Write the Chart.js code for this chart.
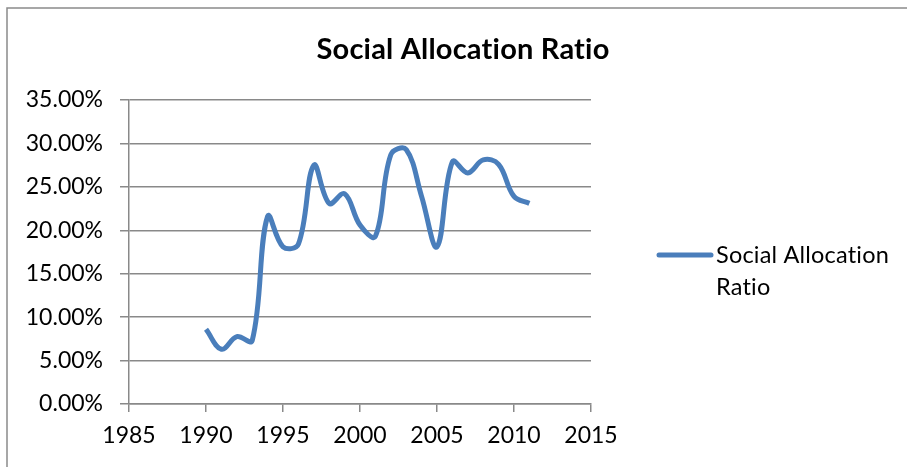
<!DOCTYPE html>
<html>
<head>
<meta charset="utf-8">
<script src="https://cdn.jsdelivr.net/npm/chart.js@4/dist/chart.umd.min.js"></script>
<style>
  html, body { margin: 0; padding: 0; background: #fff; }
  #wrap { width: 907px; height: 467px; position: relative; }
</style>
</head>
<body>
<div id="wrap"><canvas id="c" width="907" height="467"></canvas></div>
<script>
const title = 'Social Allocation Ratio';
const seriesName = 'Social Allocation Ratio';
const legendLines = ['Social Allocation', 'Ratio'];
const years = [1990, 1991, 1992, 1993, 1994, 1995, 1996, 1997, 1998, 1999, 2000,
               2001, 2002, 2003, 2004, 2005, 2006, 2007, 2008, 2009, 2010, 2011];
const ratio = [8.6, 6.3, 7.75, 7.3, 21.6, 18.1, 18.4, 27.5, 23.1, 24.2, 20.6,
               19.3, 28.7, 29.3, 23.9, 18.1, 27.9, 26.6, 28.1, 27.6, 23.9, 23.1];
const xTicks = [1985, 1990, 1995, 2000, 2005, 2010, 2015];
const yTicks = [0, 5, 10, 15, 20, 25, 30, 35];

const LINE_BLUE = '#4a7ebb';
const GRID_GRAY = '#898989';
const FONT = 'Lato, "Open Sans", sans-serif';

// Plain glyphs (no "ti" ligature) for text drawn by hand
function plainText(ctx) {
  if ('textRendering' in ctx) ctx.textRendering = 'optimizeSpeed';
  if ('letterSpacing' in ctx) ctx.letterSpacing = '0.2px';
}

// Outer frame, centred title and the wrapped legend on the right
const decor = {
  id: 'decor',
  beforeDraw(chart) {
    const ctx = chart.ctx;
    ctx.save();
    ctx.strokeStyle = '#8a8a8a';
    ctx.lineWidth = 1.5;
    ctx.strokeRect(7, 8, 1000, 1000);
    ctx.restore();
  },
  afterDraw(chart) {
    const ctx = chart.ctx;
    ctx.save();
    plainText(ctx);
    ctx.fillStyle = '#000';
    ctx.textBaseline = 'middle';
    ctx.textAlign = 'center';
    ctx.font = 'bold 29px ' + FONT;
    ctx.fillText(title, 463, 50);

    ctx.strokeStyle = LINE_BLUE;
    ctx.lineWidth = 5;
    ctx.lineCap = 'round';
    ctx.beginPath();
    ctx.moveTo(659, 255);
    ctx.lineTo(711, 255);
    ctx.stroke();

    ctx.textAlign = 'left';
    ctx.font = '23.5px ' + FONT;
    legendLines.forEach((t, i) => ctx.fillText(t, 716, 255 + i * 32));
    ctx.restore();
  }
};

new Chart(document.getElementById('c'), {
  type: 'line',
  data: {
    datasets: [{
      label: seriesName,
      data: years.map((y, i) => ({ x: y, y: ratio[i] })),
      borderColor: LINE_BLUE,
      borderWidth: 5,
      pointRadius: 0,
      tension: 0.38,
      fill: false
    }]
  },
  options: {
    responsive: false,
    animation: false,
    devicePixelRatio: 1,
    layout: { padding: { left: 0, right: 316, top: 100, bottom: 0 } },
    plugins: {
      legend: { display: false },
      title: { display: false },
      tooltip: { enabled: false }
    },
    scales: {
      x: {
        type: 'linear',
        min: xTicks[0],
        max: xTicks[xTicks.length - 1],
        afterBuildTicks(scale) { scale.ticks = xTicks.map(v => ({ value: v })); },
        afterFit(scale) { scale.height = 63; },
        ticks: {
          color: '#000',
          font: { family: FONT, size: 23 },
          padding: 10,
          callback: v => String(v)
        },
        grid: {
          drawOnChartArea: false,
          drawTicks: true,
          tickLength: 8,
          color: GRID_GRAY,
          lineWidth: 1.5
        },
        border: { display: true, color: GRID_GRAY, width: 1.5 }
      },
      y: {
        min: 0,
        max: 35,
        afterBuildTicks(scale) { scale.ticks = yTicks.map(v => ({ value: v })); },
        afterFit(scale) { scale.width = 129; },
        ticks: {
          color: '#000',
          font: { family: FONT, size: 23 },
          padding: 17,
          callback: v => v.toFixed(2) + '%'
        },
        grid: {
          drawTicks: true,
          tickLength: 9,
          color: GRID_GRAY,
          lineWidth: 1.5
        },
        border: { display: true, color: GRID_GRAY, width: 1.5 }
      }
    }
  },
  plugins: [decor]
});
</script>
</body>
</html>
